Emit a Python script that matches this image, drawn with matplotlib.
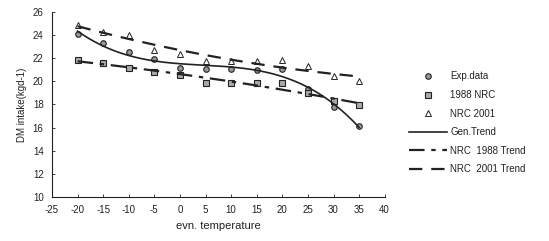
import numpy as np
import matplotlib
matplotlib.use("Agg")
import matplotlib.pyplot as plt

plt.rcParams['font.family'] = ['Liberation Sans', 'DejaVu Sans']
plt.rcParams['axes.unicode_minus'] = False

# DATA
temps = [-20, -15, -10, -5, 0, 5, 10, 15, 20, 25, 30, 35]
exp_data = [24.1, 23.3, 22.5, 21.9, 21.2, 21.1, 21.1, 21.0, 21.1, 19.3, 17.8, 16.1]
nrc_1988 = [21.85, 21.6, 21.15, 20.8, 20.55, 19.9, 19.9, 19.9, 19.85, 19.0, 18.3, 17.95]
nrc_2001 = [24.9, 24.3, 24.0, 22.7, 22.4, 21.8, 21.8, 21.8, 21.85, 21.3, 20.5, 20.0]

x_ticks = list(range(-25, 41, 5))
y_ticks = list(range(10, 27, 2))

# TRENDS (polynomial fits like spreadsheet trendlines)
xs = np.linspace(-20, 35, 200)
gen_trend = np.polyval(np.polyfit(temps, exp_data, 3), xs)
t1988 = np.polyval(np.polyfit(temps, nrc_1988, 2), xs)
t2001 = np.polyval(np.polyfit(temps, nrc_2001, 2), xs)

fig = plt.figure(figsize=(5.49, 2.41), dpi=100)
ax = fig.add_axes([0.0947, 0.183, 0.606, 0.767])

ink = "#222222"
ax.plot(temps, exp_data, linestyle="none", marker="o", markersize=4,
        markerfacecolor="#999999", markeredgecolor=ink, markeredgewidth=0.8, label="Exp.data")
ax.plot(temps, nrc_1988, linestyle="none", marker="s", markersize=4,
        markerfacecolor="#aaaaaa", markeredgecolor=ink, markeredgewidth=0.8, label="1988 NRC")
ax.plot(temps, nrc_2001, linestyle="none", marker="^", markersize=5,
        markerfacecolor="white", markeredgecolor=ink, markeredgewidth=0.7, label="NRC 2001")
ax.plot(xs, gen_trend, color=ink, linewidth=1.2, label="Gen.Trend")
ax.plot(xs, t1988, color=ink, linewidth=1.6, linestyle=(0, (7, 3, 2, 3)), label="NRC  1988 Trend")
ax.plot(xs, t2001, color=ink, linewidth=1.6, linestyle=(0, (6, 4)), label="NRC  2001 Trend")

ax.set_xlim(-25, 40)
ax.set_ylim(10, 26)
ax.set_xticks(x_ticks)
ax.set_yticks(y_ticks)
ax.tick_params(direction="in", length=2, width=0.6, labelsize=7, colors=ink, pad=6)
for s in ["top", "right"]:
    ax.spines[s].set_visible(False)
for s in ["left", "bottom"]:
    ax.spines[s].set_linewidth(0.8)
    ax.spines[s].set_color(ink)

ax.set_xlabel("evn. temperature", fontsize=8, color=ink, labelpad=4)
ax.set_ylabel("DM intake(kgd-1)", fontsize=7, color=ink, labelpad=4)

ax.legend(loc="upper left", bbox_to_anchor=(1.06, 0.70), frameon=False, fontsize=7,
          handlelength=4, handletextpad=0.3, labelspacing=0.88, borderaxespad=0,
          labelcolor=ink)

fig.savefig("out.png", dpi=100)
